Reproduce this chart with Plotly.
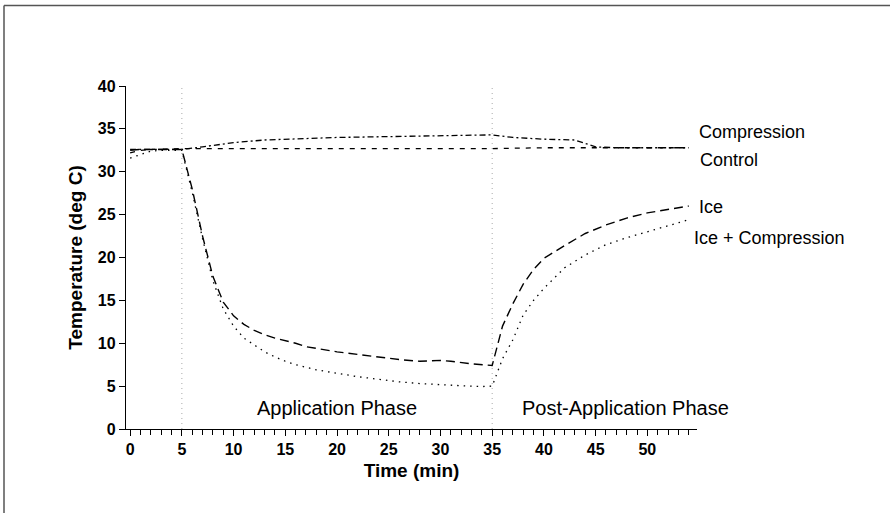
import plotly.graph_objects as go

# ---- data ----
ice_t = [0, 1, 2, 3, 4, 5, 6, 7, 8, 9, 10, 11, 12, 13, 14, 15, 16, 17, 18, 20, 22, 24, 26, 28, 30, 31, 33, 35,
         36, 37, 38, 39, 40, 42, 44, 46, 48, 50, 52, 54]
ice_v = [32.5, 32.6, 32.6, 32.6, 32.6, 32.6, 28.0, 22.5, 17.8, 14.8, 13.2, 12.2, 11.5, 11.0, 10.6, 10.3, 10.0, 9.6, 9.4,
         9.0, 8.7, 8.4, 8.1, 7.9, 8.0, 7.9, 7.6, 7.4,
         12.0, 14.6, 16.9, 18.6, 19.9, 21.4, 22.8, 23.8, 24.6, 25.2, 25.6, 26.0]

icec_t = [0, 1, 2, 3, 4, 5, 6, 7, 8, 9, 10, 11, 12, 13, 14, 15, 16, 18, 20, 22, 24, 26, 28, 30, 32, 34, 35,
          36, 37, 38, 39, 40, 42, 44, 46, 48, 50, 52, 54]
icec_v = [31.6, 32.0, 32.4, 32.5, 32.5, 32.5, 27.6, 22.2, 17.3, 14.0, 12.0, 10.6, 9.8, 9.0, 8.4, 7.9, 7.5, 6.9, 6.5,
          6.1, 5.8, 5.5, 5.3, 5.15, 5.05, 4.95, 5.0,
          8.2, 10.4, 13.3, 15.0, 16.4, 18.8, 20.3, 21.5, 22.3, 23.0, 23.7, 24.4]

ctrl_t = [0, 1, 2, 5, 10, 15, 20, 25, 30, 35, 40, 45, 50, 54]
ctrl_v = [32.2, 32.5, 32.6, 32.7, 32.7, 32.7, 32.7, 32.7, 32.7, 32.7, 32.8, 32.8, 32.8, 32.8]

comp_t = [0, 2, 5, 7, 10, 13, 15, 20, 25, 30, 35, 37, 40, 43, 45, 47, 50, 54]
comp_v = [32.6, 32.6, 32.6, 32.9, 33.4, 33.7, 33.8, 34.0, 34.1, 34.2, 34.3, 34.0, 33.8, 33.7, 32.9, 32.8, 32.8, 32.8]

series_names = ["Compression", "Control", "Ice", "Ice + Compression"]
phase_lines = [5, 35]
phase_labels = ["Application Phase", "Post-Application Phase"]
phase_label_x = [19.95, 47.9]

W, L, R = 890, 126, 193
T, B = 86, 84
pw, ph = W - L - R, 513 - T - B

fig = go.Figure()
fig.add_trace(go.Scatter(x=ctrl_t, y=ctrl_v, mode="lines", name="Control",
                         line=dict(color="black", width=1.3, dash="5px,6px")))
fig.add_trace(go.Scatter(x=comp_t, y=comp_v, mode="lines", name="Compression",
                         line=dict(color="black", width=1.3, dash="6px,3px,2px,3px")))
fig.add_trace(go.Scatter(x=ice_t, y=ice_v, mode="lines", name="Ice",
                         line=dict(color="black", width=1.4, dash="9px,5px")))
fig.add_trace(go.Scatter(x=icec_t, y=icec_v, mode="lines", name="Ice + Compression",
                         line=dict(color="black", width=1.3, dash="1.5px,5px")))

for xv in phase_lines:
    fig.add_shape(type="line", x0=xv, x1=xv, y0=0, y1=40, xref="x", yref="y",
                  line=dict(color="#aaaaaa", width=1, dash="1px,4px"), layer="below")

# series labels at right end (left edge in pixels, y in data units)
label_px = [697, 698, 697, 692]
label_y = [34.65, 31.4, 25.9, 22.3]
for name, px, yv in zip(series_names, label_px, label_y):
    fig.add_annotation(x=(px - L) / pw, y=yv, text=name, showarrow=False, xanchor="left",
                       xref="paper", yref="y",
                       font=dict(family="Liberation Sans, Arial", size=18, color="black"))

for lab, xv in zip(phase_labels, phase_label_x):
    fig.add_annotation(x=xv, y=2.5, text=lab, showarrow=False, xref="x", yref="y",
                       font=dict(family="Liberation Sans, Arial", size=20, color="black"))

# scan border (top and left)
fig.add_shape(type="line", xref="paper", yref="paper",
              x0=(4 - L) / pw, x1=(890 - L) / pw, y0=(513 - B - 5.5) / ph, y1=(513 - B - 5.5) / ph,
              line=dict(color="#555555", width=1.5))
fig.add_shape(type="line", xref="paper", yref="paper",
              x0=(4 - L) / pw, x1=(4 - L) / pw, y0=(513 - B - 5.5) / ph, y1=(513 - B - 513) / ph,
              line=dict(color="#555555", width=1.5))

fig.update_layout(
    width=890, height=513,
    margin=dict(l=L, r=R, t=T, b=B),
    paper_bgcolor="white", plot_bgcolor="white",
    showlegend=False,
    xaxis=dict(range=[-0.4, 54.8], tickvals=[0, 5, 10, 15, 20, 25, 30, 35, 40, 45, 50],
               ticks="outside", ticklen=6, tickwidth=1, tickcolor="black",
               minor=dict(dtick=1, tick0=0, ticks="outside", ticklen=5, tickcolor="black", tickwidth=1),
               showline=True, linecolor="black", linewidth=1.3, showgrid=False, zeroline=False,
               tickfont=dict(family="Liberation Sans, Arial", size=16, color="black", weight="bold"),
               title=dict(text="Time (min)", standoff=6,
                          font=dict(family="Liberation Sans, Arial", size=19, color="black", weight="bold"))),
    yaxis=dict(range=[0, 40], dtick=5, ticks="outside", ticklen=6, tickcolor="black",
               showline=True, linecolor="black", linewidth=1.3, showgrid=False, zeroline=False,
               tickfont=dict(family="Liberation Sans, Arial", size=16, color="black", weight="bold"),
               title=dict(text="Temperature (deg C)", standoff=10,
                          font=dict(family="Liberation Sans, Arial", size=19, color="black", weight="bold"))),
)

fig.write_html("out.html")
